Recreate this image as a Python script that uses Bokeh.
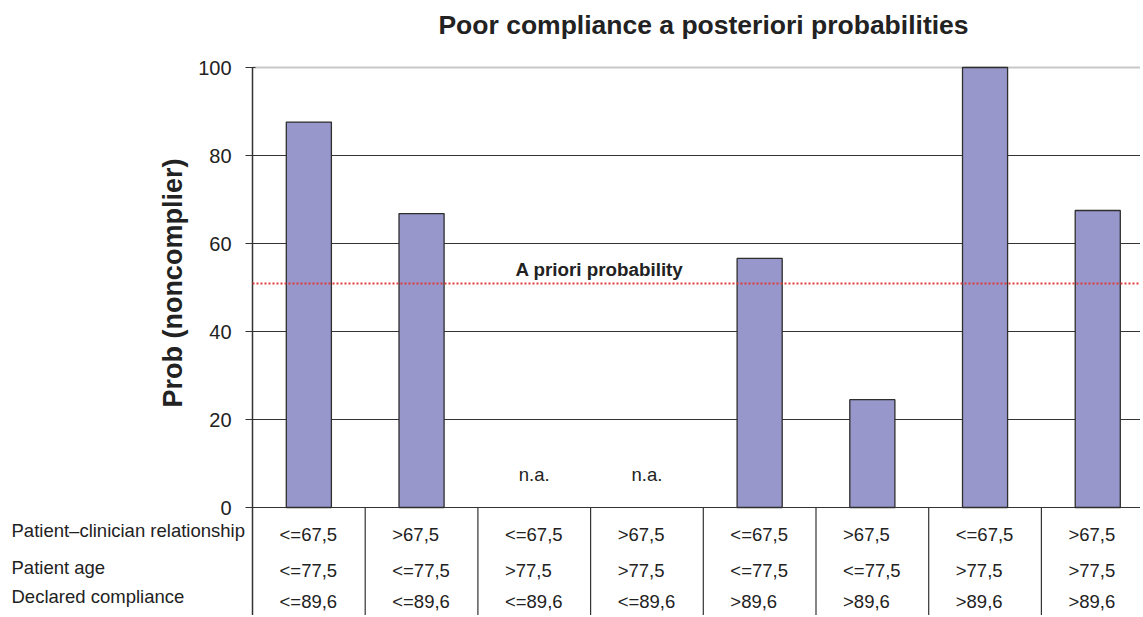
import math
from bokeh.plotting import figure
from bokeh.models import Range1d
from bokeh.embed import file_html
from bokeh.resources import INLINE
from bokeh.core.properties import value

# ---------------- data ----------------
title_text = "Poor compliance a posteriori probabilities"
y_label = "Prob (noncomplier)"
row_names = ["Patient\u2013clinician relationship", "Patient age", "Declared compliance"]
relationship = ["<=67,5", ">67,5", "<=67,5", ">67,5", "<=67,5", ">67,5", "<=67,5", ">67,5"]
age = ["<=77,5", "<=77,5", ">77,5", ">77,5", "<=77,5", "<=77,5", ">77,5", ">77,5"]
compliance = ["<=89,6", "<=89,6", "<=89,6", "<=89,6", ">89,6", ">89,6", ">89,6", ">89,6"]
prob = [87.6, 66.8, None, None, 56.6, 24.5, 100.0, 67.5]
na_text = "n.a."
apriori = 50.9
apriori_label = "A priori probability"
y_ticks = [0, 20, 40, 60, 80, 100]

# ---------------- layout ----------------
FONT = "Liberation Sans"
W, H = 1140, 615
COL_PX = 112.7          # pixels per category column
UNIT_PX = 4.4           # pixels per probability unit
AX_X = 252              # page x of the value axis
ZERO_Y = 507            # page y of value 0
n = len(prob)
TXT = "#222222"
LINE = "#333333"


def xpix(page_x):
    return (page_x - AX_X) / COL_PX


def ypix(page_y):
    return (ZERO_Y - page_y) / UNIT_PX


x_lo, x_hi = xpix(0), xpix(W)
y_lo, y_hi = ypix(H), ypix(0)

p = figure(width=W, height=H, x_range=Range1d(x_lo, x_hi), y_range=Range1d(y_lo, y_hi),
           output_backend="svg", toolbar_location=None, x_axis_location=None,
           y_axis_location=None, min_border=0, outline_line_color=None,
           background_fill_color="white", border_fill_color="white")
p.xgrid.visible = False
p.ygrid.visible = False

# ---- title ----
p.text(x=[xpix(703)], y=[ypix(24.5)], text=[title_text], text_align="center",
       text_baseline="middle", text_font=value(FONT), text_font_size="26.5px",
       text_font_style="bold", text_color=TXT)

# ---- horizontal grid lines ----
grid_vals = [v for v in y_ticks if v < 100]
p.segment(x0=[0] * len(grid_vals), y0=grid_vals, x1=[x_hi] * len(grid_vals), y1=grid_vals,
          line_color=LINE, line_width=1)
top_val = [v for v in y_ticks if v == 100]
p.segment(x0=[0] * len(top_val), y0=top_val, x1=[x_hi] * len(top_val), y1=top_val,
          line_color="#c8c8c8", line_width=2)

# ---- value axis (drawn with the plot's scales) ----
p.segment(x0=[0], y0=[max(y_ticks)], x1=[0], y1=[y_lo], line_color=LINE, line_width=1.5)
p.segment(x0=[xpix(AX_X - 7)] * len(y_ticks), y0=y_ticks,
          x1=[xpix(AX_X + 3)] * len(y_ticks), y1=y_ticks, line_color=LINE, line_width=1.2)
p.text(x=[xpix(231)] * len(y_ticks), y=y_ticks, text=[str(v) for v in y_ticks],
       text_align="right", text_baseline="middle", text_font=value(FONT),
       text_font_size="20px", text_color=TXT)
p.text(x=[xpix(172)], y=[(min(y_ticks) + max(y_ticks)) / 2 + 1], text=[y_label],
       angle=math.pi / 2, text_align="center", text_baseline="middle",
       text_font=value(FONT), text_font_size="27px", text_font_style="bold",
       text_color=TXT)

# ---- bars ----
centers = [i + 0.5 for i in range(n)]
bx = [c for c, v in zip(centers, prob) if v is not None]
bt = [v for v in prob if v is not None]
p.vbar(x=bx, top=bt, bottom=0, width=0.4, fill_color="#9797CB",
       line_color="#2e2e2e", line_width=1.3)

nx = [c for c, v in zip(centers, prob) if v is None]
p.text(x=nx, y=[ypix(473.5)] * len(nx), text=[na_text] * len(nx), text_align="center",
       text_baseline="middle", text_font=value(FONT), text_font_size="18.5px",
       text_color=TXT)

# ---- a priori line ----
p.segment(x0=[0], y0=[apriori], x1=[x_hi], y1=[apriori], line_color="#e03a3a",
          line_width=2, line_dash="2 2")
p.text(x=[xpix(515)], y=[ypix(268.5)], text=[apriori_label], text_align="left",
       text_baseline="middle", text_font=value(FONT), text_font_size="18.8px",
       text_font_style="bold", text_color=TXT)

# ---- table below the bars ----
sep_x = list(range(1, n))
p.segment(x0=sep_x, y0=[0] * len(sep_x), x1=sep_x, y1=[y_lo] * len(sep_x),
          line_color=LINE, line_width=1.2)

row_y = [ypix(534), ypix(570), ypix(600.5)]
for rows, yy in zip([relationship, age, compliance], row_y):
    p.text(x=[i + 0.24 for i in range(n)], y=[yy] * n, text=rows, text_align="left",
           text_baseline="middle", text_font=value(FONT), text_font_size="18.5px",
           text_color=TXT)

label_y = [ypix(530), ypix(566.5), ypix(596)]
p.text(x=[xpix(11)] * len(row_names), y=label_y, text=row_names, text_align="left",
       text_baseline="middle", text_font=value(FONT), text_font_size="18.5px",
       text_color=TXT)

open("out.html", "w").write(file_html(p, INLINE))
